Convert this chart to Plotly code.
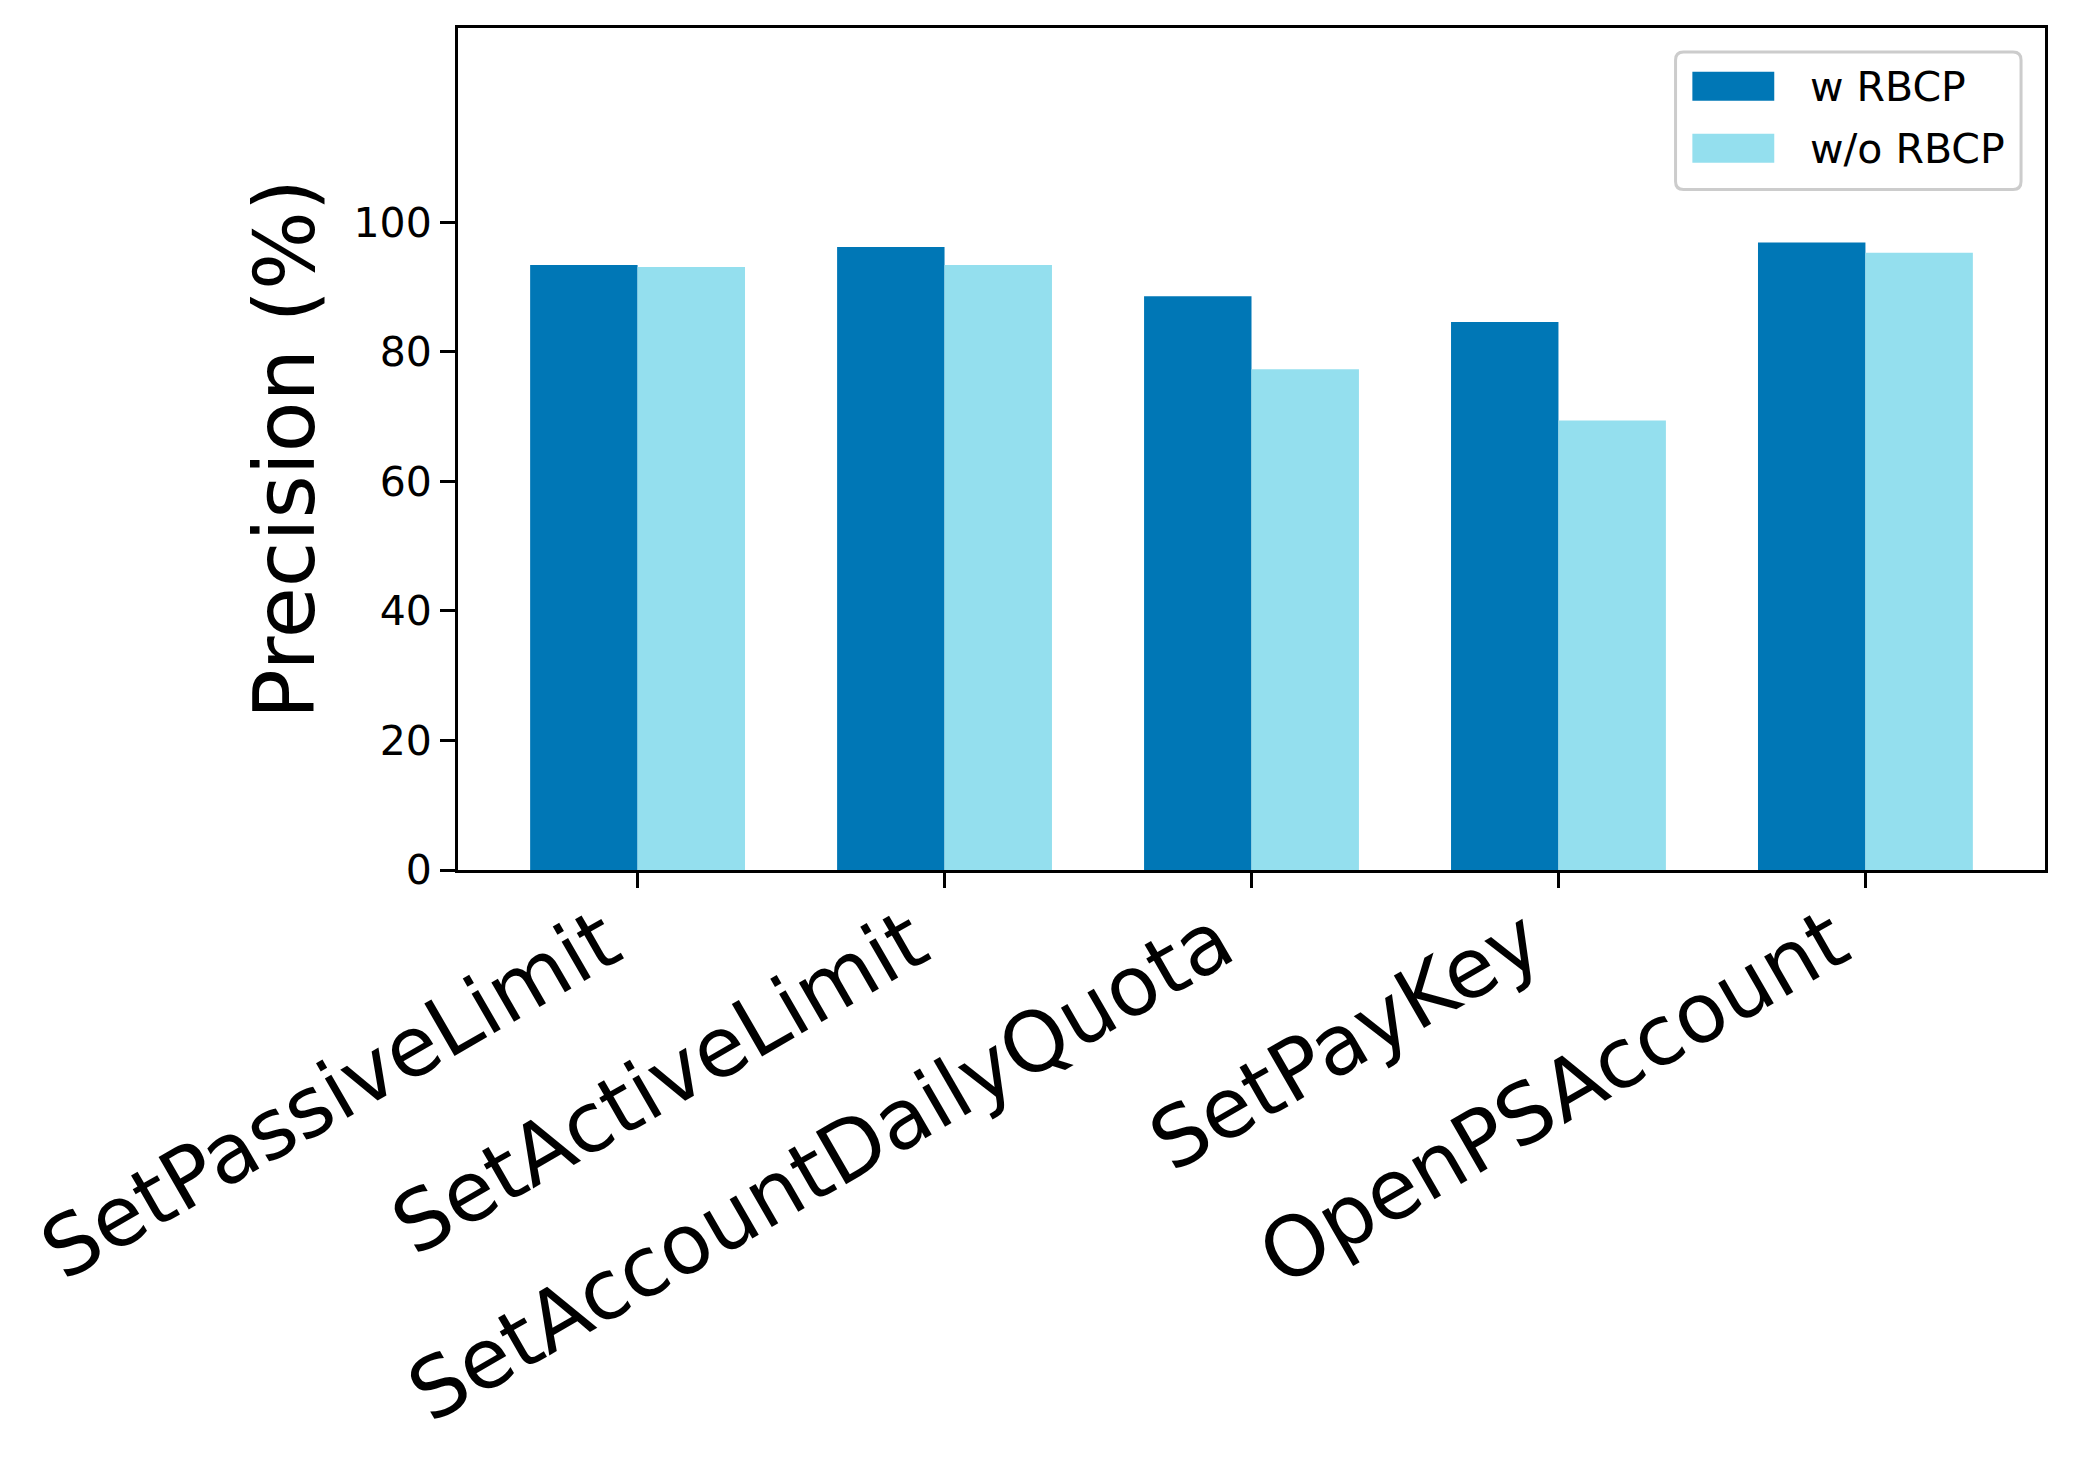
import plotly.graph_objects as go

categories = ["SetPassiveLimit", "SetActiveLimit", "SetAccountDailyQuota", "SetPayKey", "OpenPSAccount"]
w_rbcp = [93.4, 96.2, 88.6, 84.6, 96.9]
wo_rbcp = [93.1, 93.4, 77.3, 69.4, 95.3]
y_ticks = [0, 20, 40, 60, 80, 100]
series_names = ["w RBCP", "w/o RBCP"]

FONT = "DejaVu Sans"
COLORS = ["#0077b6", "#94dfee"]
BAR_W = 0.35

fig = go.Figure()
fig.add_trace(go.Bar(
    x=categories, y=w_rbcp, name=series_names[0], showlegend=False,
    width=BAR_W, offset=-BAR_W, marker={"color": COLORS[0], "line": {"width": 0}},
))
fig.add_trace(go.Bar(
    x=categories, y=wo_rbcp, name=series_names[1], showlegend=False,
    width=BAR_W, offset=0, marker={"color": COLORS[1], "line": {"width": 0}},
))

# rotated category labels, matplotlib-style (box right edge at the tick)
for cat in categories:
    fig.add_annotation(
        x=cat, xref="x", y=0, yref="paper",
        text=cat, textangle=-30, showarrow=False,
        xanchor="right", yanchor="top", yshift=-19,
        font={"size": 83}, borderpad=0,
    )

# legend drawn by hand so the patches are wide like matplotlib's
def rounded_box(x0, y0, x1, y1, rx, ry):
    return (
        f"M {x0 + rx},{y0} L {x1 - rx},{y0} Q {x1},{y0} {x1},{y0 + ry} "
        f"L {x1},{y1 - ry} Q {x1},{y1} {x1 - rx},{y1} "
        f"L {x0 + rx},{y1} Q {x0},{y1} {x0},{y1 - ry} "
        f"L {x0},{y0 + ry} Q {x0},{y0} {x0 + rx},{y0} Z"
    )

fig.add_shape(
    type="path", xref="paper", yref="paper",
    path=rounded_box(0.7672, 0.8081, 0.9849, 0.9716, 0.005, 0.0095),
    line={"color": "#cccccc", "width": 3}, fillcolor="white",
)
for i, (name, color) in enumerate(zip(series_names, COLORS)):
    y_top = 0.9479 - i * 0.0735
    fig.add_shape(
        type="rect", xref="paper", yref="paper",
        x0=0.7778, x1=0.8294, y0=y_top - 0.0344, y1=y_top,
        line={"width": 0}, fillcolor=color,
    )
    fig.add_annotation(
        x=0.8509, y=y_top - 0.0178, xref="paper", yref="paper",
        text=name, showarrow=False, xanchor="left", yanchor="middle",
        font={"size": 41},
    )

fig.update_layout(
    width=2065, height=1460,
    barmode="overlay",
    plot_bgcolor="white", paper_bgcolor="white",
    font={"family": FONT, "color": "black", "size": 41},
    margin={"l": 450, "r": 28, "t": 20, "b": 598, "autoexpand": False},
)
fig.update_xaxes(
    range=[-0.585, 4.585], showticklabels=False,
    ticks="outside", ticklen=15, tickwidth=3, tickcolor="black",
    showline=True, linecolor="black", linewidth=3, mirror=True,
    showgrid=False,
)
fig.update_yaxes(
    range=[0, 130], tickvals=y_ticks,
    title={"text": "Precision (%)", "font": {"size": 83}, "standoff": 12},
    ticks="outside", ticklen=15, tickwidth=3, tickcolor="black",
    showline=True, linecolor="black", linewidth=3, mirror=True,
    showgrid=False, zeroline=False,
)

fig.write_html("out.html")
